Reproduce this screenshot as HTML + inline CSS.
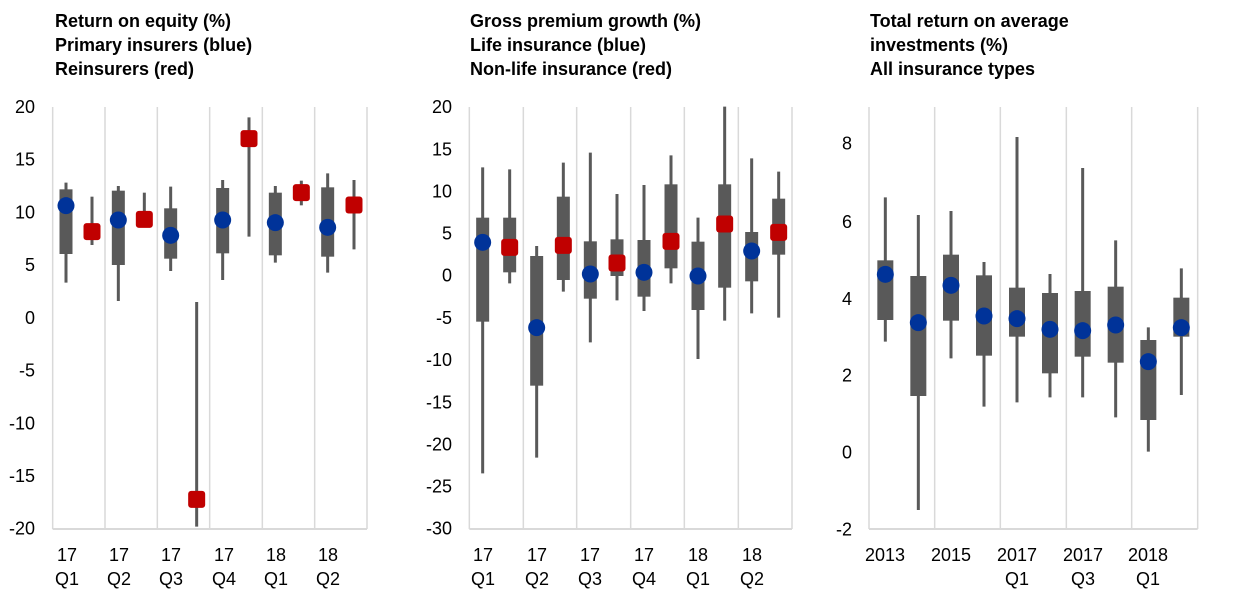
<!DOCTYPE html>
<html><head><meta charset="utf-8"><style>
body{margin:0;background:#fff;width:1240px;height:598px;overflow:hidden}
svg text{font-family:"Liberation Sans",Arial,sans-serif;fill:#000}
</style></head><body>
<svg id="s" width="1240" height="598" xmlns="http://www.w3.org/2000/svg">
<g font-weight="bold" font-size="18">
<text x="55" y="27">Return on equity (%)</text>
<text x="55" y="51">Primary insurers (blue)</text>
<text x="55" y="75">Reinsurers (red)</text>
<text x="470" y="27">Gross premium growth (%)</text>
<text x="470" y="51">Life insurance (blue)</text>
<text x="470" y="75">Non-life insurance (red)</text>
<text x="870" y="27">Total return on average</text>
<text x="870" y="51">investments (%)</text>
<text x="870" y="75">All insurance types</text>
</g>
</svg>
<script>
const s=document.getElementById('s');let h='';
function Y(z){return 90+z/3}
function chart(ox,grid,items,bw,ylabels,labx,xlabels){
  grid.forEach(g=>{h+=`<line x1="${ox+g/3}" y1="107" x2="${ox+g/3}" y2="529" stroke="#d9d9d9" stroke-width="1.5"/>`});
  h+=`<line x1="${ox+grid[0]/3}" y1="529" x2="${ox+grid[grid.length-1]/3}" y2="529" stroke="#d9d9d9" stroke-width="2"/>`;
  items.forEach(it=>{const [zx,wt,bt,bb,wb,dot,red]=it;const x=ox+zx/3;
    h+=`<line x1="${x}" y1="${Y(wt)}" x2="${x}" y2="${Y(wb)}" stroke="#595959" stroke-width="3"/>`;
    if(bt!=null)h+=`<rect x="${x-bw/2}" y="${Y(bt)}" width="${bw}" height="${Y(bb)-Y(bt)}" fill="#595959"/>`;
    if(red)h+=`<rect x="${x-8.5}" y="${Y(dot)-8.5}" width="17" height="17" rx="3" fill="#c00000"/>`;
    else h+=`<circle cx="${x}" cy="${Y(dot)}" r="8.5" fill="#003399"/>`;
  });
  ylabels.forEach(([t,z])=>{h+=`<text x="${labx}" y="${Y(z)+6}" font-size="18" text-anchor="end">${t}</text>`});
  xlabels.forEach(([x,a,b])=>{h+=`<text x="${x}" y="561" font-size="18" text-anchor="middle">${a}</text>`;if(b)h+=`<text x="${x}" y="585" font-size="18" text-anchor="middle">${b}</text>`});
}
// chart 1
chart(0,[158,315,472,629,787,944,1101],[
[198,278,298,492,578,347,0],[276,320,null,null,465,425,1],
[355,288,302,525,633,390,0],[433,308,null,null,400,388,1],
[512,290,355,506,543,436,0],[590,636,null,null,1310,1228,1],
[668,270,294,490,570,390,0],[747,82,null,null,440,146,1],
[826,288,308,496,518,398,0],[904,272,null,null,346,308,1],
[983,250,292,500,548,412,0],[1062,270,null,null,478,345,1]],13,
[['20',51],['15',209],['10',367],['5',525],['0',684],['-5',842],['-10',1000],['-15',1158],['-20',1316]],35,
[[67,'17','Q1'],[119,'17','Q2'],[171,'17','Q3'],[224,'17','Q4'],[276,'18','Q1'],[328,'18','Q2']]);
// chart 2
chart(410,[178,340,500,662,823,985,1146],[
[218,232,383,695,1150,457,0],[299,238,383,547,580,472,1],
[380,468,498,887,1103,713,0],[460,218,320,570,605,466,1],
[541,188,454,626,757,552,0],[621,312,448,558,631,519,1],
[702,285,450,620,663,547,0],[783,196,283,535,580,454,1],
[864,383,455,660,807,558,0],[944,50,283,593,692,402,1],
[1025,205,426,574,670,483,0],[1106,245,326,494,683,427,1]],13,
[['20',51],['15',178],['10',304],['5',431],['0',557],['-5',684],['-10',810],['-15',937],['-20',1063],['-25',1190],['-30',1316]],452,
[[483,'17','Q1'],[537,'17','Q2'],[590,'17','Q3'],[644,'17','Q4'],[698,'18','Q1'],[752,'18','Q2']]);
// chart 3
chart(820,[147,344,541,739,935,1133],[
[196,322,511,690,755,553,0],[295,375,558,918,1260,698,0],
[393,363,494,692,805,586,0],[492,516,556,797,950,678,0],
[591,141,593,740,937,686,0],[690,552,609,850,922,718,0],
[788,234,603,800,922,722,0],[887,451,590,818,982,705,0],
[985,712,750,990,1085,815,0],[1084,535,623,740,915,713,0]],16,
[['8',160],['6',396],['4',627],['2',857],['0',1087],['-2',1318]],852,
[[885,'2013'],[951,'2015'],[1017,'2017','Q1'],[1083,'2017','Q3'],[1148,'2018','Q1']]);
s.insertAdjacentHTML('beforeend',h);
</script>
</body></html>
